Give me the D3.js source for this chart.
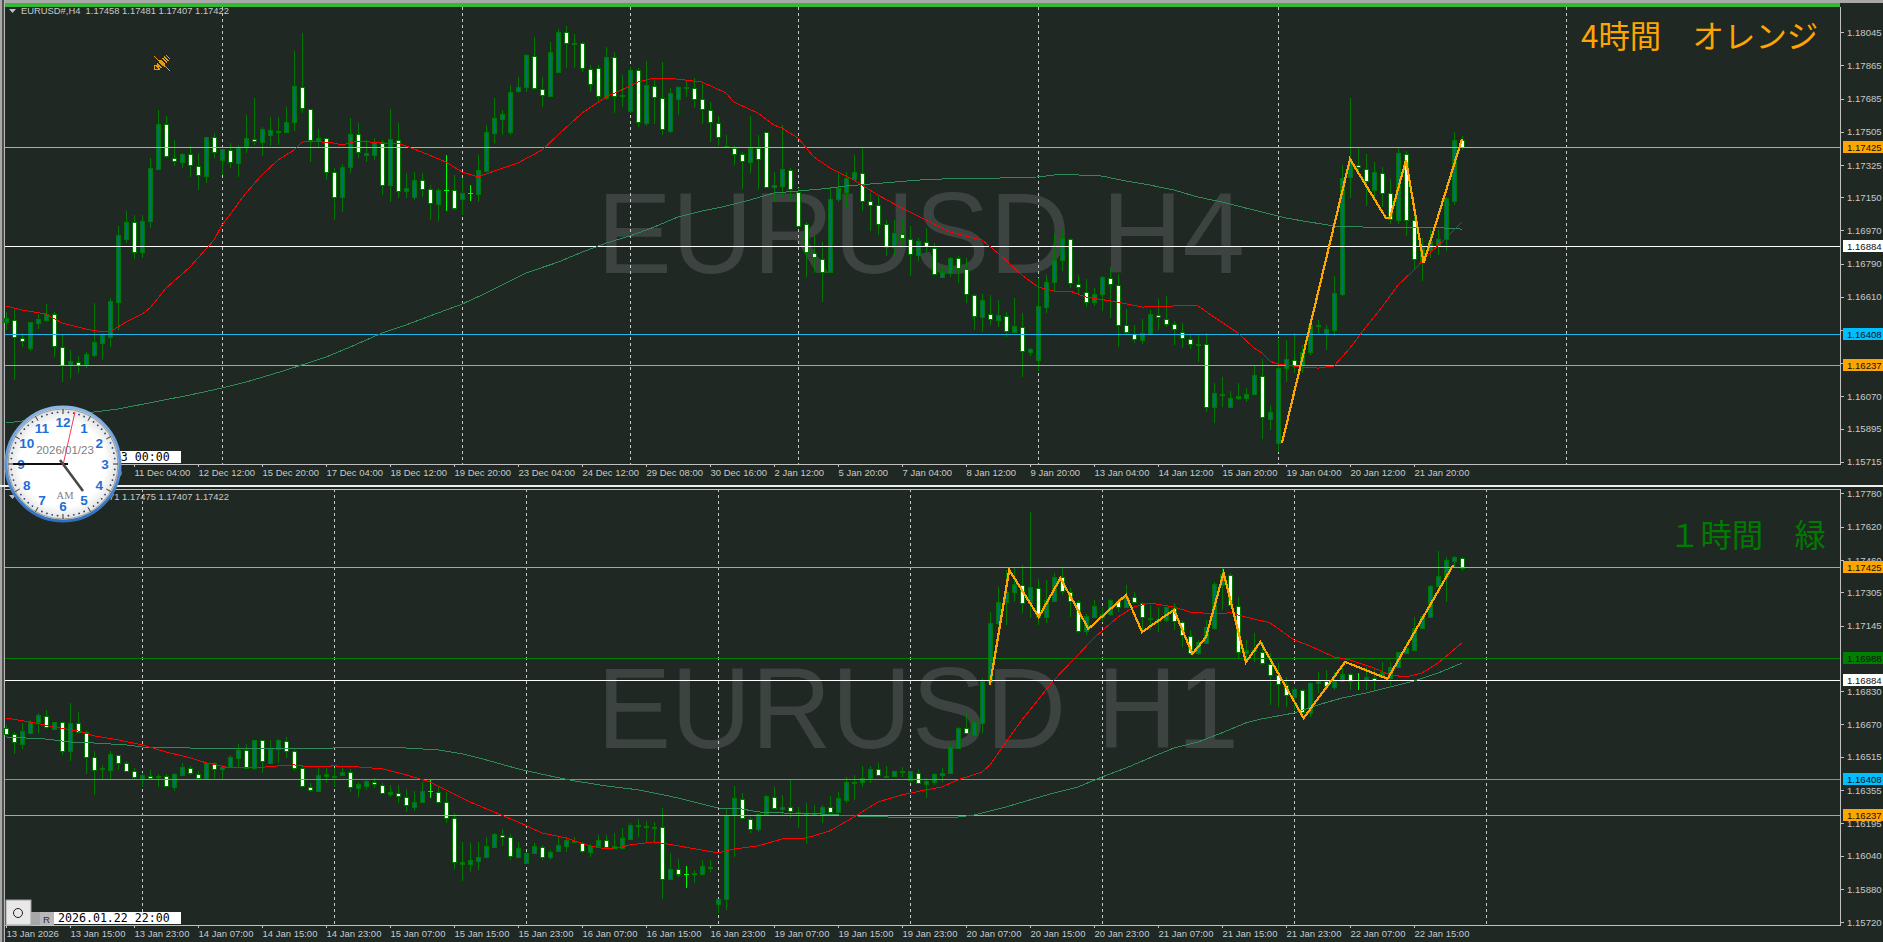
<!DOCTYPE html>
<html>
<head>
<meta charset="utf-8">
<title>EURUSD H4 / H1</title>
<script src="https://cdn.jsdelivr.net/npm/d3@7"></script>
<style>
  html, body { margin: 0; padding: 0; background: #1f2823; overflow: hidden; }
  text { font-family: "Liberation Sans", Arial, sans-serif; }
</style>
</head>
<body>
<div id="chart"></div>
<script>
"use strict";

// prices are kept in points, 117425 means 1.17425

//H4 candles
var h4_open = [
116473,116484,116386,116332,116468,116484,116516,116337,116240,116256,
116240,116294,116359,116391,116581,116923,117015,116852,117021,117303,
117547,117363,117341,117384,117319,117265,117477,117352,117406,117336,
117427,117466,117449,117488,117509,117504,117558,117748,117629,117455,
117471,117287,117151,117314,117493,117379,117379,117449,117216,117460,
117184,117151,117243,117194,117113,117189,117189,117140,117173,117167,
117293,117499,117574,117504,117726,117748,117916,117737,117699,117829,
118046,117981,117987,117846,117851,117688,117911,117699,117618,117840,
117552,117753,117688,117509,117683,117743,117743,117683,117623,117552,
117422,117417,117384,117341,117417,117504,117205,117211,117298,117178,
117004,116847,116814,116744,117140,117178,117249,117282,117130,117108,
117004,116880,116950,116923,116836,116907,116874,116717,116739,116820,
116760,116619,116500,116516,116484,116505,116419,116446,116310,116267,
116554,116690,116809,116923,116679,116635,116581,116625,116712,116673,
116457,116407,116375,116407,116511,116489,116462,116419,116380,116353,
116353,116012,116082,116012,116061,116061,116082,116180,115946,115816,
116223,116267,116240,116310,116451,116413,116429,116625,117260,117325,
117303,117189,117282,117173,117026,117384,117026,116798,116863,116885,
116923,117130,117458];
var h4_close = [
116495,116391,116370,116473,116489,116516,116342,116240,116262,116240,
116299,116364,116402,116587,116945,117015,116852,117021,117309,117547,
117374,117347,117384,117325,117271,117477,117395,117411,117341,117422,
117471,117455,117520,117515,117504,117558,117753,117634,117460,117471,
117287,117151,117314,117493,117395,117390,117449,117216,117466,117184,
117200,117243,117194,117119,117189,117189,117092,117173,117173,117298,
117504,117580,117601,117721,117748,117922,117743,117705,117938,118046,
117987,117987,117851,117764,117699,117911,117699,117705,117840,117558,
117759,117694,117520,117716,117748,117748,117683,117629,117558,117477,
117427,117384,117347,117417,117357,117205,117216,117303,117194,116993,
116852,116825,116744,117140,117200,117254,117287,117130,117108,117004,
116880,116956,116929,116842,116912,116885,116733,116744,116820,116766,
116625,116505,116592,116489,116511,116424,116451,116316,116326,116560,
116690,116809,116929,116684,116663,116581,116625,116717,116679,116457,
116419,116380,116413,116516,116500,116462,116435,116386,116353,116356,
116012,116088,116077,116061,116071,116082,116185,115957,115984,116223,
116272,116234,116310,116457,116457,116435,116630,117254,117336,117314,
117238,117287,117173,117032,117390,117026,116814,116880,116912,116923,
117146,117460,117422];
var h4_high = [
116527,116549,116413,116473,116516,116570,116527,116407,116321,116288,
116310,116576,116413,116603,116993,117075,117054,117054,117363,117623,
117590,117460,117390,117427,117390,117477,117499,117411,117444,117433,
117596,117688,117531,117585,117585,117639,117943,118041,117629,117520,
117471,117309,117330,117580,117552,117460,117471,117460,117629,117552,
117282,117287,117282,117216,117200,117379,117271,117254,117216,117379,
117542,117688,117623,117759,117802,117927,118019,117802,117992,118063,
118079,118036,117992,117867,117867,117965,117938,117813,117856,117851,
117889,117797,117884,117743,117753,117786,117797,117770,117666,117590,
117488,117427,117395,117590,117488,117504,117287,117542,117309,117200,
117015,116945,116907,117200,117282,117287,117379,117422,117173,117162,
117026,117026,117026,116993,116929,116983,116902,116782,116825,116831,
116820,116625,116625,116619,116592,116527,116603,116521,116332,116712,
116728,116956,116977,116929,116728,116706,116657,116722,116771,116733,
116543,116457,116489,116538,116597,116614,116478,116468,116407,116402,
116413,116142,116174,116099,116142,116115,116234,116272,116023,116386,
116375,116413,116348,116484,116484,116457,116722,117325,117688,117422,
117384,117341,117314,117249,117422,117400,117054,116929,116972,116977,
117151,117504,117481];
var h4_low = [
116429,116158,116337,116316,116435,116473,116283,116147,116163,116196,
116224,116283,116267,116337,116429,116902,116814,116820,116983,117298,
117363,117319,117309,117260,117189,117227,117363,117271,117309,117260,
117390,117433,117374,117427,117433,117499,117509,117607,117341,117422,
117243,117026,117070,117282,117363,117341,117352,117162,117124,117146,
117146,117135,117151,117026,117021,117075,117081,117054,117130,117124,
117287,117444,117488,117488,117716,117721,117732,117639,117694,117824,
117851,117851,117829,117721,117661,117677,117607,117639,117607,117531,
117536,117547,117488,117499,117596,117694,117634,117547,117449,117427,
117417,117325,117194,117282,117194,117200,117124,117151,117135,116983,
116717,116739,116581,116739,117124,117097,117238,117075,116967,116945,
116831,116831,116891,116722,116804,116847,116728,116717,116717,116684,
116576,116429,116419,116457,116446,116391,116419,116174,116288,116207,
116521,116635,116750,116657,116619,116554,116560,116532,116495,116337,
116402,116359,116353,116402,116429,116446,116348,116332,116326,116256,
115984,115925,116012,116012,116050,116039,116077,115838,115887,115768,
116147,116196,116196,116294,116413,116321,116397,116614,117146,117271,
117102,117135,117097,117004,117004,116940,116755,116695,116820,116836,
116858,117108,117407];

//H4 moving averages and zigzag, bar number then price
var h4_red_bar = [0,2,5,7,10,12,13,15,17,18,20,23,24,26,27,30,32,34,36,37,38,41,42,44,47,49,52,55,57,59,61,64,67,69,72,75,78,79,81,84,87,90,91,94,96,97,99,101,103,106,109,112,115,118,122,124,127,129,131,133,135,139,142,146,149,151,154,156,157,158,159,162,164,166,168,170,172,174,176,178,180,182];
var h4_red = [116560,116538,116516,116468,116435,116419,116419,116473,116516,116549,116657,116771,116820,116918,116999,117173,117271,117352,117406,117449,117455,117444,117433,117455,117444,117444,117395,117341,117287,117260,117292,117336,117406,117488,117607,117694,117753,117775,117797,117791,117775,117716,117666,117607,117542,117525,117471,117368,117309,117243,117162,117091,117026,116961,116918,116847,116728,116663,116641,116641,116608,116581,116554,116560,116560,116500,116413,116332,116305,116261,116245,116229,116223,116234,116332,116446,116554,116673,116755,116847,116929,117015];
var h4_slow_bar = [0,14,23,27,30,35,40,43,47,50,54,57,60,62,65,69,72,75,78,81,84,87,90,93,96,99,102,105,108,111,114,117,120,124,129,132,134,137,140,143,146,149,152,155,157,160,163,166,170,175,178,182];
var h4_slow = [115925,116001,116077,116115,116147,116212,116283,116337,116413,116457,116522,116570,116630,116673,116739,116798,116852,116901,116940,116988,117043,117075,117102,117135,117173,117184,117195,117211,117222,117232,117243,117249,117254,117254,117260,117276,117271,117265,117238,117216,117189,117151,117124,117091,117070,117037,117015,116994,116988,116988,116988,116977];
var h4_zig_bar = [159.5,168,172.5,173,175,177.2,182];
var h4_zig = [115816,117357,117037,117037,117352,116793,117466];

//H1 candles
var h1_open = [
116654,116625,116577,116630,116682,116711,116649,116682,116543,116678,
116634,116514,116457,116452,116524,116486,116447,116409,116423,116418,
116423,116370,116428,116461,116433,116409,116486,116457,116466,116510,
116548,116461,116596,116486,116553,116591,116543,116461,116370,116351,
116423,116421,116428,116442,116365,116375,116394,116380,116336,116341,
116322,116274,116298,116351,116346,116298,116221,116000,116000,116014,
116034,116082,116139,116130,116034,116005,116053,116082,116034,116062,
116087,116111,116101,116058,116087,116116,116087,116077,116120,116186,
116181,116176,116178,115928,115976,115952,115955,115952,115986,115808,
115832,116235,116312,116216,116168,116240,116322,116264,116274,116250,
116235,116235,116240,116274,116250,116307,116392,116394,116413,116457,
116421,116423,116445,116404,116438,116384,116394,116428,116438,116557,
116654,116620,116678,116874,117158,117258,117306,117340,117253,117325,
117186,117263,117378,117306,117258,117119,117186,117186,117201,117263,
117234,117282,117253,117182,117167,117172,117229,117162,117095,117014,
117062,117134,117340,117388,117239,117014,117033,117018,116961,116908,
116860,116802,116836,116725,116869,116879,116850,116879,116913,116884,
116884,116893,116898,116893,116946,117014,117028,117134,117186,117335,
117378,117455,117471];
var h1_close = [
116625,116586,116639,116682,116716,116658,116682,116543,116678,116634,
116514,116452,116460,116529,116486,116447,116418,116428,116414,116423,
116375,116433,116466,116437,116414,116486,116457,116466,116514,116548,
116461,116596,116495,116553,116596,116543,116461,116375,116356,116428,
116433,116423,116442,116370,116384,116399,116384,116341,116346,116327,
116284,116298,116351,116351,116298,116221,116010,116010,116019,116034,
116087,116144,116130,116038,116077,116053,116087,116034,116058,116092,
116116,116106,116062,116087,116116,116082,116077,116125,116188,116188,
116183,116178,115928,115976,115952,115952,115957,115990,115981,115832,
116235,116317,116221,116168,116240,116327,116269,116274,116255,116245,
116245,116245,116274,116250,116317,116394,116394,116413,116457,116428,
116423,116447,116447,116447,116389,116399,116433,116438,116562,116654,
116630,116682,116879,117158,117258,117306,117345,117253,117330,117186,
117268,117378,117311,117263,117119,117191,117239,117201,117268,117234,
117282,117258,117186,117177,117177,117234,117167,117100,117014,117066,
117138,117345,117393,117244,117018,117028,117023,116966,116908,116865,
116812,116841,116730,116869,116879,116855,116879,116913,116879,116884,
116898,116884,116922,116946,117018,117038,117134,117191,117335,117383,
117460,117474,117422];
var h1_high = [
116668,116634,116678,116692,116726,116740,116682,116682,116774,116730,
116644,116543,116476,116543,116524,116495,116461,116438,116452,116433,
116433,116438,116486,116471,116447,116490,116490,116476,116524,116577,
116577,116596,116596,116596,116601,116610,116553,116476,116389,116471,
116461,116461,116466,116457,116394,116404,116413,116389,116380,116380,
116361,116351,116394,116404,116375,116346,116245,116106,116101,116106,
116130,116149,116168,116144,116106,116058,116101,116092,116067,116130,
116130,116130,116106,116096,116140,116140,116149,116173,116197,116216,
116207,116202,116269,116053,116024,115990,115971,116019,116019,115832,
116269,116375,116341,116226,116245,116332,116370,116332,116409,116274,
116293,116284,116284,116327,116346,116418,116428,116471,116471,116486,
116471,116447,116466,116447,116457,116413,116438,116461,116582,116658,
116726,116687,116893,117210,117330,117412,117422,117436,117690,117369,
117364,117397,117422,117325,117268,117201,117268,117234,117273,117273,
117340,117306,117258,117244,117234,117239,117253,117167,117124,117076,
117172,117354,117422,117397,117282,117076,117110,117066,117014,116966,
116898,116850,116841,116874,116922,116932,116922,116966,116918,116918,
116946,116941,116970,116970,117018,117066,117186,117196,117340,117503,
117474,117479,117475];
var h1_low = [
116625,116529,116553,116625,116630,116649,116644,116524,116495,116630,
116433,116332,116409,116409,116452,116442,116404,116370,116409,116370,
116370,116351,116423,116428,116409,116409,116409,116409,116461,116461,
116457,116452,116438,116486,116486,116510,116447,116370,116346,116346,
116389,116370,116428,116346,116322,116356,116365,116336,116322,116293,
116250,116255,116293,116317,116293,116197,115976,115918,115962,115971,
116029,116082,116087,116019,116029,116000,116048,116019,116019,116058,
116058,116101,116053,116034,116082,116077,116072,116072,116120,116130,
116106,116106,115832,115923,115938,115885,115909,115947,115962,115765,
115779,116034,116216,116149,116154,116235,116264,116235,116221,116173,
116101,116235,116197,116245,116250,116293,116307,116370,116389,116423,
116418,116418,116418,116394,116384,116317,116380,116394,116433,116553,
116625,116620,116630,116869,117148,117148,117258,117206,117182,117148,
117158,117258,117292,117186,117110,117100,117182,117162,117191,117210,
117229,117253,117110,117124,117114,117162,117124,117042,117004,117004,
117057,117124,117220,117234,116990,116966,116970,116956,116764,116754,
116754,116740,116711,116706,116821,116836,116836,116874,116836,116836,
116836,116831,116893,116860,116941,117009,117023,117129,117182,117330,
117258,117426,117407];

//H1 moving averages and zigzag
var h1_red_bar = [0,3,6,9,11,14,17,20,23,25,28,31,34,36,38,41,44,47,50,53,55,58,61,64,67,70,73,75,77,78,81,84,87,89,91,94,97,100,103,106,109,112,115,117,119,122,123,125,127,128,131,134,136,139,141,143,146,148,151,153,155,158,161,163,166,168,171,173,175,177,179,182];
var h1_red = [116701,116682,116658,116639,116615,116596,116572,116538,116510,116486,116461,116461,116471,116476,116466,116471,116466,116457,116428,116394,116356,116298,116250,116202,116149,116125,116087,116072,116082,116092,116106,116087,116067,116053,116072,116087,116120,116125,116159,116226,116298,116332,116356,116370,116404,116442,116476,116586,116692,116740,116884,117004,117086,117186,117234,117253,117234,117210,117201,117206,117186,117158,117076,117047,116994,116980,116941,116908,116898,116917,116965,117062];
var h1_slow_bar = [0,5,8,11,15,18,23,26,31,37,41,47,50,54,57,60,64,68,71,75,78,79,81,84,87,89,92,94,97,102,106,110,114,118,121,125,128,131,134,137,140,143,146,149,152,155,157,161,164,167,170,173,176,179,182];
var h1_slow = [116610,116600,116586,116581,116572,116557,116557,116553,116553,116553,116557,116557,116557,116548,116529,116500,116457,116423,116399,116375,116361,116356,116341,116317,116288,116269,116264,116250,116245,116240,116231,116226,116221,116221,116235,116274,116308,116341,116370,116418,116461,116510,116557,116586,116630,116678,116697,116725,116764,116797,116821,116850,116879,116917,116965];
var h1_zig_bar = [123,125.4,129.1,131.8,135.3,140,142,146,148.3,150,152.2,155,156.8,162.2,167.4,172.7,180.9];
var h1_zig = [116860,117412,117186,117373,117129,117292,117114,117220,117009,117090,117397,116970,117066,116701,116970,116889,117436];

//axis tick labels
var h4_price_ticks = [118045,117865,117685,117505,117325,117150,116970,116790,116610,116430,116250,116070,115895,115715];
var h1_price_ticks = [117780,117620,117460,117305,117145,116830,116670,116515,116355,116195,116040,115880,115720];
var h4_time_labels = ["8 Dec 12:00","9 Dec 20:00","11 Dec 04:00","12 Dec 12:00","15 Dec 20:00","17 Dec 04:00","18 Dec 12:00","19 Dec 20:00","23 Dec 04:00","24 Dec 12:00","29 Dec 08:00","30 Dec 16:00","2 Jan 12:00","5 Jan 20:00","7 Jan 04:00","8 Jan 12:00","9 Jan 20:00","13 Jan 04:00","14 Jan 12:00","15 Jan 20:00","19 Jan 04:00","20 Jan 12:00","21 Jan 20:00"];
var h1_time_labels = ["13 Jan 2026","13 Jan 15:00","13 Jan 23:00","14 Jan 07:00","14 Jan 15:00","14 Jan 23:00","15 Jan 07:00","15 Jan 15:00","15 Jan 23:00","16 Jan 07:00","16 Jan 15:00","16 Jan 23:00","19 Jan 07:00","19 Jan 15:00","19 Jan 23:00","20 Jan 07:00","20 Jan 15:00","20 Jan 23:00","21 Jan 07:00","21 Jan 15:00","21 Jan 23:00","22 Jan 07:00","22 Jan 15:00"];

//period separators, bar numbers
var h4_grid_bars = [27,57,78,99,129,159,195];
var h1_grid_bars = [17,41,65,89,113,137,161,185];

//horizontal price levels
var h4_level_prices = [117425,116884,116408,116237];
var h4_level_colors = ["#ffa500","#ffffff","#1fb4ea","#d9a02b"];
var h1_level_prices = [117425,116988,116884,116408,116237];
var h1_level_colors = ["#e3a31f","#008000","#ffffff","#1fb4ea","#e3a31f"];
var level_box_colors = {"#ffa500":"#ffa500","#e3a31f":"#ffa500","#d9a02b":"#ffa500","#ffffff":"#ffffff","#1fb4ea":"#00bfff","#008000":"#008000"};

var W = 1883, H = 942;
var left = 5, right = 1840;
var fmt = function(p) { return (p / 100000).toFixed(5); };

var svg = d3.select("#chart").append("svg")
    .attr("width", W)
    .attr("height", H)
    .style("display", "block");

svg.append("rect").attr("width", W).attr("height", H).attr("fill", "#1f2823");

function drawPanel(p)
{
    //scales
    var x = d3.scaleLinear().domain([0, 182]).range([6, 1462]);
    var y = d3.scaleLinear().domain(p.priceDomain).range(p.priceRange);
    var g = svg.append("g");

    //big watermark
    g.append("text")
        .attr("x", 597)
        .attr("y", p.markY)
        .attr("font-size", 115)
        .attr("fill", "#3c4341")
        .attr("textLength", p.markWidth)
        .attr("lengthAdjust", "spacingAndGlyphs")
        .text(p.mark);

    //period separators
    g.selectAll(".sep")
        .data(p.gridBars)
        .enter().append("line")
        .attr("x1", function(d) { return x(d) + 0.5; })
        .attr("x2", function(d) { return x(d) + 0.5; })
        .attr("y1", p.top)
        .attr("y2", p.bottom)
        .attr("stroke", "#c8c8c8")
        .attr("stroke-dasharray", "3,3")
        .attr("shape-rendering", "crispEdges");

    var bars = d3.range(p.open.length).map(function(i) {
        return {i: i, o: p.open[i], h: p.high[i], l: p.low[i], c: p.close[i]};
    });

    var candle = g.selectAll(".candle")
        .data(bars)
        .enter().append("g")
        .attr("shape-rendering", "crispEdges");

    //wicks, open equal to close is drawn in lime
    candle.append("line")
        .attr("x1", function(d) { return x(d.i) + 0.5; })
        .attr("x2", function(d) { return x(d.i) + 0.5; })
        .attr("y1", function(d) { return Math.round(y(d.h)); })
        .attr("y2", function(d) { return Math.round(y(d.l)); })
        .attr("stroke", function(d) { return d.o == d.c ? "#00ff00" : "#007800"; });

    candle.filter(function(d) { return d.o == d.c; }).append("line")
        .attr("x1", function(d) { return x(d.i) - 2; })
        .attr("x2", function(d) { return x(d.i) + 3; })
        .attr("y1", function(d) { return Math.round(y(d.o)) + 0.5; })
        .attr("y2", function(d) { return Math.round(y(d.o)) + 0.5; })
        .attr("stroke", "#00ff00");

    candle.filter(function(d) { return d.o != d.c; }).append("rect")
        .attr("x", function(d) { return x(d.i) - 1.5; })
        .attr("width", 4)
        .attr("y", function(d) { return Math.round(y(Math.max(d.o, d.c))) + 0.5; })
        .attr("height", function(d) {
            return Math.max(1, Math.round(y(Math.min(d.o, d.c))) - Math.round(y(Math.max(d.o, d.c))));
        })
        .attr("fill", function(d) { return d.c > d.o ? "#006f70" : "#ffffff"; })
        .attr("stroke", "#007800");

    //horizontal levels
    g.selectAll(".level")
        .data(p.levels)
        .enter().append("line")
        .attr("x1", left)
        .attr("x2", right)
        .attr("y1", function(d) { return Math.round(y(d)) + 0.5; })
        .attr("y2", function(d) { return Math.round(y(d)) + 0.5; })
        .attr("stroke", function(d, i) { return p.levelColors[i]; })
        .attr("stroke-width", 1)
        .attr("shape-rendering", "crispEdges");

    //moving averages and zigzag
    var drawLine = function(barNo, values, color, width) {
        var line = d3.line()
            .x(function(d) { return x(d); })
            .y(function(d, i) { return y(values[i]); });
        g.append("path")
            .attr("d", line(barNo))
            .attr("fill", "none")
            .attr("stroke", color)
            .attr("stroke-width", width)
            .attr("shape-rendering", "crispEdges");
    };
    drawLine(p.slowBar, p.slow, "#2e8b57", 1);
    drawLine(p.redBar, p.red, "#ff0000", 1);
    drawLine(p.zigBar, p.zig, "#ffa500", 2.2);

    //price axis
    var yAxis = g.append("g")
        .attr("transform", "translate(" + right + ",0)")
        .call(d3.axisRight(y).tickValues(p.priceTicks).tickFormat(fmt).tickSize(4).tickPadding(3));
    yAxis.select(".domain").remove();
    yAxis.selectAll("line").attr("stroke", "#c0c0c0").attr("shape-rendering", "crispEdges");
    yAxis.selectAll("text").attr("fill", "#c8c8c8").attr("font-size", 9.6)
        .style("font-family", "'Liberation Sans'");

    //time axis
    var xAxis = g.append("g")
        .attr("transform", "translate(0," + p.bottom + ")")
        .call(d3.axisBottom(x)
            .tickValues(p.timeLabels.map(function(d, i) { return i * 8; }))
            .tickFormat(function(d) { return p.timeLabels[d / 8]; })
            .tickSize(3).tickPadding(2));
    xAxis.select(".domain").remove();
    xAxis.selectAll("line").attr("stroke", "#c0c0c0").attr("shape-rendering", "crispEdges");
    xAxis.selectAll("text").attr("fill", "#c8c8c8").attr("font-size", 9.5)
        .attr("text-anchor", "start")
        .style("font-family", "'Liberation Sans'");

    //frame lines of the axes
    g.append("line").attr("x1", left).attr("x2", right + 1).attr("y1", p.bottom + 0.5).attr("y2", p.bottom + 0.5)
        .attr("stroke", "#c0c0c0").attr("shape-rendering", "crispEdges");
    g.append("line").attr("x1", right + 0.5).attr("x2", right + 0.5).attr("y1", p.top).attr("y2", p.bottom + 1)
        .attr("stroke", "#c0c0c0").attr("shape-rendering", "crispEdges");
    if (p.topLine) {
        g.append("line").attr("x1", left).attr("x2", right + 1).attr("y1", p.top + 0.5).attr("y2", p.top + 0.5)
            .attr("stroke", "#c0c0c0").attr("shape-rendering", "crispEdges");
    }

    //level boxes on the price axis
    var box = g.selectAll(".levelbox")
        .data(p.levels)
        .enter().append("g")
        .attr("transform", function(d) { return "translate(1843," + (Math.round(y(d)) - 6) + ")"; });
    box.append("rect")
        .attr("width", 40)
        .attr("height", 12)
        .attr("fill", function(d, i) { return level_box_colors[p.levelColors[i]]; });
    box.append("text")
        .attr("x", 4)
        .attr("y", 9.5)
        .attr("font-size", 9.6)
        .attr("fill", "#101010")
        .text(fmt);

    //header text and triangle
    g.append("path")
        .attr("d", "M9," + (p.headY - 2) + "h7l-3.5,4z")
        .attr("fill", "#c0c0c0");
    g.append("text")
        .attr("x", 21)
        .attr("y", p.headY + 3)
        .attr("font-size", 9.4)
        .attr("fill", "#c8c8c8")
        .attr("xml:space", "preserve")
        .text(p.header);

    //note in the corner
    g.append("text")
        .attr("x", p.noteX)
        .attr("y", p.noteY)
        .attr("font-size", p.noteSize)
        .attr("fill", p.noteColor)
        .style("font-family", "'Noto Sans CJK JP'")
        .text(p.note);

    //time box at the bottom left
    g.append("rect").attr("x", 54).attr("y", p.bottom - 13).attr("width", 127).attr("height", 12).attr("fill", "#ffffff");
    g.append("text")
        .attr("x", 58)
        .attr("y", p.bottom - 3)
        .attr("font-size", 11.6)
        .attr("fill", "#000000")
        .style("font-family", "'DejaVu Sans Mono'")
        .text(p.timeBox);
}

//window frame
svg.append("rect").attr("width", W).attr("height", 3).attr("fill", "#a8a8a8");
svg.append("rect").attr("y", 3).attr("width", right).attr("height", 4).attr("fill", "#35b835");
svg.append("rect").attr("width", 2).attr("height", H).attr("fill", "#a8a8a8");
svg.append("rect").attr("x", 2).attr("width", 2).attr("height", H).attr("fill", "#505050");
svg.append("rect").attr("x", 4).attr("width", 1).attr("height", H).attr("fill", "#b8b8b8");
svg.append("rect").attr("y", 485).attr("width", W).attr("height", 2).attr("fill", "#f0f0f0");

drawPanel({
    open: h4_open, high: h4_high, low: h4_low, close: h4_close,
    redBar: h4_red_bar, red: h4_red, slowBar: h4_slow_bar, slow: h4_slow, zigBar: h4_zig_bar, zig: h4_zig,
    priceTicks: h4_price_ticks, timeLabels: h4_time_labels, gridBars: h4_grid_bars,
    levels: h4_level_prices, levelColors: h4_level_colors,
    priceDomain: [115715, 118045], priceRange: [461.7, 32.3],
    top: 7, bottom: 464, topLine: false,
    mark: "EURUSD H4", markY: 273, markWidth: 648, headY: 11,
    header: "EURUSD#,H4  1.17458 1.17481 1.17407 1.17422",
    note: "4時間　オレンジ", noteX: 1581, noteY: 48, noteSize: 31.4, noteColor: "#ffa500",
    timeBox: "2026.01.23 00:00"
});

drawPanel({
    open: h1_open, high: h1_high, low: h1_low, close: h1_close,
    redBar: h1_red_bar, red: h1_red, slowBar: h1_slow_bar, slow: h1_slow, zigBar: h1_zig_bar, zig: h1_zig,
    priceTicks: h1_price_ticks, timeLabels: h1_time_labels, gridBars: h1_grid_bars,
    levels: h1_level_prices, levelColors: h1_level_colors,
    priceDomain: [115720, 117780], priceRange: [922.3, 493.3],
    top: 489, bottom: 925, topLine: true,
    mark: "EURUSD H1", markY: 748, markWidth: 642, headY: 497,
    header: "EURUSD#,H1  1.17471 1.17475 1.17407 1.17422",
    note: "１時間　緑", noteX: 1669, noteY: 547, noteSize: 31.4, noteColor: "#007a00",
    timeBox: "2026.01.22 22:00"
});

//buttons at the bottom left
svg.append("rect").attr("x", 6).attr("y", 900).attr("width", 25).attr("height", 25).attr("fill", "#e8e8e8").attr("stroke", "#a0a0a0");
svg.append("circle").attr("cx", 18).attr("cy", 913).attr("r", 4.5).attr("fill", "none").attr("stroke", "#202020");
svg.append("rect").attr("x", 31).attr("y", 912).attr("width", 9).attr("height", 13).attr("fill", "#a8a8a8");
svg.append("rect").attr("x", 40).attr("y", 912).attr("width", 14).attr("height", 13).attr("fill", "#b8b8b8");
svg.append("text").attr("x", 43).attr("y", 923).attr("font-size", 9.6).attr("fill", "#303030").text("R");

//drawing tool icon
var icon = svg.append("g").attr("stroke", "#e89a10").attr("fill", "none").attr("shape-rendering", "crispEdges");
icon.append("line").attr("x1", 154).attr("y1", 56).attr("x2", 170).attr("y2", 71);
icon.append("line").attr("x1", 157).attr("y1", 68).attr("x2", 168).attr("y2", 57).attr("stroke-width", 7).attr("stroke-dasharray", "1.5,1");
icon.append("rect").attr("x", 154.5).attr("y", 65.5).attr("width", 4).attr("height", 4);

//clock
var cx = 63, cy = 464, r = 57;
var defs = svg.append("defs");
var face = defs.append("radialGradient").attr("id", "face");
face.append("stop").attr("offset", "0.75").attr("stop-color", "#ffffff");
face.append("stop").attr("offset", "1").attr("stop-color", "#dcdcdc");
var rim = defs.append("linearGradient").attr("id", "rim").attr("x1", 0).attr("y1", 0).attr("x2", 0).attr("y2", 1);
rim.append("stop").attr("offset", "0").attr("stop-color", "#8db6e4");
rim.append("stop").attr("offset", "1").attr("stop-color", "#2f6fc0");

var clock = svg.append("g").attr("transform", "translate(" + cx + "," + cy + ")");
clock.append("circle").attr("r", r).attr("fill", "url(#face)").attr("stroke", "url(#rim)").attr("stroke-width", 3);
clock.append("circle").attr("r", r - 2).attr("fill", "none").attr("stroke", "#9a9a9a").attr("stroke-width", 1);

d3.range(60).forEach(function(m) {
    var a = m * Math.PI / 30;
    if (m % 5 == 0) {
        clock.append("line")
            .attr("x1", Math.sin(a) * 50).attr("y1", -Math.cos(a) * 50)
            .attr("x2", Math.sin(a) * 55).attr("y2", -Math.cos(a) * 55)
            .attr("stroke", "#303030");
    } else {
        clock.append("circle")
            .attr("cx", Math.sin(a) * 52).attr("cy", -Math.cos(a) * 52)
            .attr("r", 0.9).attr("fill", "#204070");
    }
});

d3.range(1, 13).forEach(function(n) {
    var a = n * Math.PI / 6;
    clock.append("text")
        .attr("x", Math.sin(a) * 42)
        .attr("y", -Math.cos(a) * 42 + 5)
        .attr("text-anchor", "middle")
        .attr("font-size", 13.5)
        .attr("font-weight", "bold")
        .attr("fill", "#1c6fd6")
        .text(n);
});

clock.append("text").attr("x", 2).attr("y", -10).attr("text-anchor", "middle")
    .attr("font-size", 11.5).attr("fill", "#808080").text("2026/01/23");
clock.append("text").attr("x", 2).attr("y", 35).attr("text-anchor", "middle")
    .attr("font-size", 10.5).attr("fill", "#808080").style("font-family", "'Liberation Serif'").text("AM");

clock.append("line").attr("x1", -50).attr("y1", 0).attr("x2", 5).attr("y2", 0).attr("stroke", "#101010").attr("stroke-width", 1.8);
clock.append("line").attr("x1", -3).attr("y1", -4).attr("x2", 20).attr("y2", 27).attr("stroke", "#484848").attr("stroke-width", 2.6);
clock.append("line").attr("x1", 0).attr("y1", 1).attr("x2", 12).attr("y2", -52).attr("stroke", "#ff2040").attr("stroke-width", 0.9);
</script>
</body>
</html>
